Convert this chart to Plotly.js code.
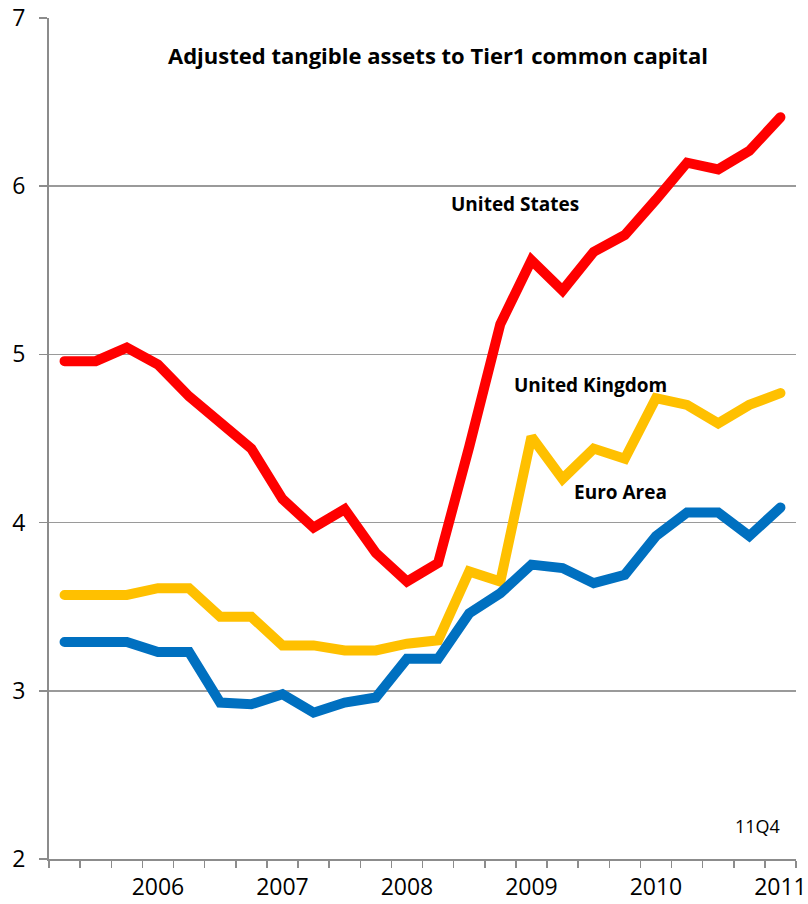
<!DOCTYPE html>
<html>
<head>
<meta charset="utf-8">
<script src="https://cdn.plot.ly/plotly-3.0.1.min.js"></script>
<style>html,body{margin:0;padding:0;background:#fff}#chart{width:808px;height:904px}
#chart .scatterlayer path.js-line{stroke-linecap:round}</style>
</head>
<body>
<div id="chart"></div>
<script>
// Quarters 2006Q1 .. 2011Q4
const quarters = ["06Q1","06Q2","06Q3","06Q4","07Q1","07Q2","07Q3","07Q4","08Q1","08Q2","08Q3","08Q4",
                  "09Q1","09Q2","09Q3","09Q4","10Q1","10Q2","10Q3","10Q4","11Q1","11Q2","11Q3","11Q4"];
const yearTickIndex = [3, 7, 11, 15, 19, 23];
const yearLabels = ["2006","2007","2008","2009","2010","2011"];

const unitedStates = [4.96,4.96,5.04,4.94,4.75,4.60,4.44,4.14,3.97,4.08,3.82,3.65,
                      3.76,4.45,5.18,5.56,5.38,5.61,5.71,5.92,6.14,6.10,6.21,6.41];
const unitedKingdom = [3.57,3.57,3.57,3.61,3.61,3.44,3.44,3.27,3.27,3.24,3.24,3.28,
                       3.30,3.71,3.65,4.51,4.26,4.44,4.38,4.74,4.70,4.59,4.70,4.77];
const euroArea = [3.29,3.29,3.29,3.23,3.23,2.93,2.92,2.98,2.87,2.93,2.96,3.19,
                  3.19,3.46,3.58,3.75,3.73,3.64,3.69,3.92,4.06,4.06,3.92,4.09];

const xIdx = quarters.map((q, i) => i);
const boundaries = [];
for (let i = 0; i <= quarters.length; i++) boundaries.push(i - 0.5);

function series(name, y, color) {
  return {
    type: "scatter", mode: "lines", name: name, x: xIdx, y: y, text: quarters,
    line: {color: color, width: 10, shape: "linear"}, hoverinfo: "text+y"
  };
}

const data = [
  series("United States", unitedStates, "#FF0000"),
  series("United Kingdom", unitedKingdom, "#FFC000"),
  series("Euro Area", euroArea, "#0070C0")
];

const FAM = "Open Sans, DejaVu Sans, sans-serif";
const labelFont = {family: FAM, size: 19, color: "#000", weight: 700};

function ann(px, py, text, font) {
  return {xref: "paper", yref: "paper", x: (px - 49) / 747, y: (859 - py) / 841,
          xanchor: "center", yanchor: "middle", text: text, showarrow: false, font: font};
}

const layout = {
  width: 808, height: 904,
  margin: {l: 49, r: 12, t: 18, b: 45},
  paper_bgcolor: "#fff", plot_bgcolor: "#fff",
  showlegend: false,
  font: {family: FAM, color: "#000"},
  xaxis: {
    range: [-0.5, 23.5],
    tickmode: "array", tickvals: yearTickIndex, ticktext: yearLabels,
    ticks: "", showgrid: false, zeroline: false,
    showline: true, linecolor: "#8c8c8c", linewidth: 2,
    tickfont: {size: 23, color: "#000"}, ticklabelstandoff: 6,
    minor: {tickmode: "array", tickvals: boundaries, ticks: "outside", ticklen: 7, tickcolor: "#8c8c8c", tickwidth: 1.5, showgrid: false}
  },
  yaxis: {
    range: [2, 7],
    tickmode: "array", tickvals: [2,3,4,5,6,7],
    ticks: "outside", ticklen: 8, tickcolor: "#8c8c8c", tickwidth: 1.5,
    showgrid: true, gridcolor: "#9a9a9a", gridwidth: 1.5,
    zeroline: false, showline: true, linecolor: "#8c8c8c", linewidth: 2,
    tickfont: {size: 23, color: "#000"}, ticklabelstandoff: 9
  },
  annotations: [
    ann(438, 55, "Adjusted tangible assets to Tier1 common capital", {family: FAM, size: 22, weight: 700, color: "#000"}),
    ann(515, 204, "United States", labelFont),
    ann(590, 385, "United Kingdom", labelFont),
    ann(620, 492, "Euro Area", labelFont),
    ann(757, 826, "11Q4", {family: FAM, size: 18, color: "#000"})
  ]
};

Plotly.newPlot("chart", data, layout, {displayModeBar: false, staticPlot: true});
</script>
</body>
</html>
